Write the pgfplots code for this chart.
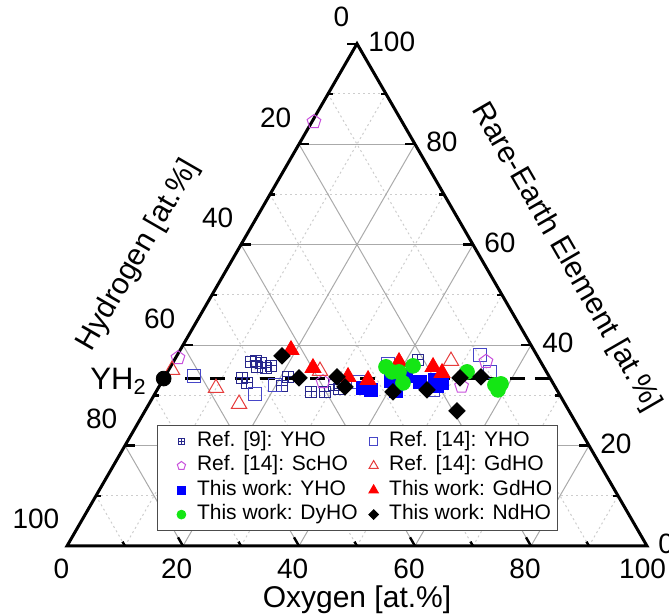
\documentclass[border=0pt]{standalone}
\usepackage{pgfplots}
\pgfplotsset{compat=1.18}
\usepackage{pgfplotstable}
\usepackage{fontspec}
\setmainfont{Liberation Sans}
\usetikzlibrary{plotmarks}

\pgfdeclareplotmark{boxplus}{%
  \pgfpathrectangle{\pgfpoint{-\pgfplotmarksize}{-\pgfplotmarksize}}{\pgfpoint{2\pgfplotmarksize}{2\pgfplotmarksize}}%
  \pgfpathmoveto{\pgfpoint{-\pgfplotmarksize}{0pt}}%
  \pgfpathlineto{\pgfpoint{\pgfplotmarksize}{0pt}}%
  \pgfpathmoveto{\pgfpoint{0pt}{-\pgfplotmarksize}}%
  \pgfpathlineto{\pgfpoint{0pt}{\pgfplotmarksize}}%
  \pgfusepathqstroke}

\definecolor{cRefNine}{RGB}{40,40,140}
\definecolor{cRefYHO}{RGB}{70,70,200}
\definecolor{cRefSc}{RGB}{200,80,220}
\definecolor{cRefGd}{RGB}{230,60,60}
\definecolor{cYHO}{RGB}{0,0,255}
\definecolor{cGd}{RGB}{255,0,0}
\definecolor{cDy}{RGB}{20,230,20}
\definecolor{majgrid}{RGB}{170,170,170}
\definecolor{mingrid}{RGB}{205,205,205}

% composition tables: O = oxygen at.%, RE = rare-earth at.% (H = 100 - O - RE)
\pgfplotstableread{
O RE
13.39 36.65
14.16 36.85
15.22 36.45
14.93 35.66
16.58 35.46
17.24 35.86
13.44 33.47
14.79 32.47
21.27 33.67
21.13 31.87
26.73 30.68
29.14 30.68
30.00 32.07
31.26 31.27
41.99 37.05
}\refnine
\pgfplotstableread{
O RE
4.97 33.86
17.27 30.28
19.82 32.07
33.84 32.67
52.19 38.05
55.60 34.66
47.56 31.08
37.22 36.25
}\refyho
\pgfplotstableread{
O RE
0.35 84.46
0.41 37.45
27.80 32.67
52.13 31.81
53.87 36.73
}\refscho
\pgfplotstableread{
O RE
0.57 35.06
9.95 31.47
15.52 28.29
47.78 36.85
26.19 34.86
}\refgdho
\pgfplotstableread{
O RE
35.29 31.47
36.87 31.08
39.43 32.87
41.28 30.88
41.52 33.86
44.53 32.67
46.92 33.07
48.42 32.47
47.85 31.87
}\yho
\pgfplotstableread{
O RE
19.10 39.04
24.68 35.46
31.62 33.67
35.37 33.07
38.92 36.65
45.28 35.66
47.43 34.46
}\gdho
\pgfplotstableread{
O RE
37.17 35.66
38.70 34.66
39.91 34.66
41.69 32.47
41.73 35.86
51.64 34.66
57.75 32.07
58.77 31.08
58.69 32.27
}\dyho
\pgfplotstableread{
O RE
18.14 37.85
23.27 33.47
29.72 33.67
32.09 31.67
40.87 30.68
46.53 31.08
53.79 26.89
51.03 33.47
54.55 33.67
}\ndho
\pgfplotstableread{
O RE
3.67 33.333
66.667 33.333
}\yhline
\pgfplotstableread{
O RE
0 33.333
}\yhdot

\begin{document}
\begin{tikzpicture}
\begin{axis}[
  scale only axis, width=290pt, height=251.147pt,
  xmin=0, xmax=100, ymin=0, ymax=86.6025,
  axis lines=none, clip=false, xtick=\empty, ytick=\empty,
  legend columns=2,
  legend cell align=left,
  legend style={at={(axis cs:15.52,20.86)}, anchor=north west, draw=black!70, fill=white,
     font=\fontsize{10.5}{12}\selectfont, inner xsep=2pt, inner ysep=3pt,
     nodes={inner xsep=0.5pt, inner ysep=0pt, text height=7.5pt, text depth=2.5pt},
     row sep=2.2pt,
     /tikz/every even column/.append style={column sep=-2.5pt}},
  legend image code/.code={\path[draw=none,fill=none] (-10pt,0pt) -- (7.3pt,0pt);\draw[#1] plot coordinates {(0pt,0pt)};},
  legend image post style={/tikz/every mark/.append style={scale=0.6}},
]
% minor grid (10,30,50,70,90)
\begin{scope}[mingrid, line width=0.5pt, dash pattern=on 1pt off 1.5pt]
\draw (axis cs:5,8.66025) -- (axis cs:95,8.66025);
\draw (axis cs:15,25.98076) -- (axis cs:85,25.98076);
\draw (axis cs:25,43.30127) -- (axis cs:75,43.30127);
\draw (axis cs:35,60.62178) -- (axis cs:65,60.62178);
\draw (axis cs:45,77.94229) -- (axis cs:55,77.94229);
\draw (axis cs:10,0) -- (axis cs:55,77.94229);
\draw (axis cs:30,0) -- (axis cs:65,60.62178);
\draw (axis cs:50,0) -- (axis cs:75,43.30127);
\draw (axis cs:70,0) -- (axis cs:85,25.98076);
\draw (axis cs:90,0) -- (axis cs:95,8.66025);
\draw (axis cs:45,77.94229) -- (axis cs:90,0);
\draw (axis cs:35,60.62178) -- (axis cs:70,0);
\draw (axis cs:25,43.30127) -- (axis cs:50,0);
\draw (axis cs:15,25.98076) -- (axis cs:30,0);
\draw (axis cs:5,8.66025) -- (axis cs:10,0);
\end{scope}
% major grid (20,40,60,80)
\begin{scope}[majgrid, line width=0.5pt]
\draw (axis cs:10,17.3205) -- (axis cs:90,17.3205);
\draw (axis cs:20,34.641) -- (axis cs:80,34.641);
\draw (axis cs:30,51.96152) -- (axis cs:70,51.96152);
\draw (axis cs:40,69.28203) -- (axis cs:60,69.28203);
\draw (axis cs:20,0) -- (axis cs:60,69.28203);
\draw (axis cs:40,0) -- (axis cs:70,51.96152);
\draw (axis cs:60,0) -- (axis cs:80,34.641);
\draw (axis cs:80,0) -- (axis cs:90,17.3205);
\draw (axis cs:40,69.28203) -- (axis cs:80,0);
\draw (axis cs:30,51.96152) -- (axis cs:60,0);
\draw (axis cs:20,34.641) -- (axis cs:40,0);
\draw (axis cs:10,17.3205) -- (axis cs:20,0);
\end{scope}

\addplot[only marks, mark=boxplus, mark size=2.8pt, color=cRefNine, line width=0.5pt]
  table[x expr=\thisrow{O}+0.5*\thisrow{RE}, y expr=0.8660254*\thisrow{RE}] {\refnine};
\addlegendentry{Ref. [9]: YHO}
\addplot[only marks, mark=square, mark size=3.2pt, color=cRefYHO, line width=0.5pt]
  table[x expr=\thisrow{O}+0.5*\thisrow{RE}, y expr=0.8660254*\thisrow{RE}] {\refyho};
\addlegendentry{Ref. [14]: YHO}
\addplot[only marks, mark=pentagon, mark size=3.6pt, color=cRefSc, line width=0.5pt]
  table[x expr=\thisrow{O}+0.5*\thisrow{RE}, y expr=0.8660254*\thisrow{RE}] {\refscho};
\addlegendentry{Ref. [14]: ScHO}
\addplot[only marks, mark=triangle, mark size=4.4pt, color=cRefGd, line width=0.5pt]
  table[x expr=\thisrow{O}+0.5*\thisrow{RE}, y expr=0.8660254*\thisrow{RE}] {\refgdho};
\addlegendentry{Ref. [14]: GdHO}
\addplot[only marks, mark=square*, mark size=3.2pt, color=cYHO]
  table[x expr=\thisrow{O}+0.5*\thisrow{RE}, y expr=0.8660254*\thisrow{RE}] {\yho};
\addlegendentry{This work: YHO}
\addplot[only marks, mark=triangle*, mark size=4.6pt, color=cGd]
  table[x expr=\thisrow{O}+0.5*\thisrow{RE}, y expr=0.8660254*\thisrow{RE}] {\gdho};
\addlegendentry{This work: GdHO}
\addplot[only marks, mark=*, mark size=3.7pt, color=cDy]
  table[x expr=\thisrow{O}+0.5*\thisrow{RE}, y expr=0.8660254*\thisrow{RE}] {\dyho};
\addlegendentry{This work: DyHO}
\addplot[only marks, mark=square*, mark size=2.9pt, color=black, mark options={rotate=45}]
  table[x expr=\thisrow{O}+0.5*\thisrow{RE}, y expr=0.8660254*\thisrow{RE}] {\ndho};
\addlegendentry{This work: NdHO}

% YH2 composition line and point
\addplot[forget plot, black, line width=1.5pt, dash pattern=on 7.5pt off 5pt]
  table[x expr=\thisrow{O}+0.5*\thisrow{RE}, y expr=0.8660254*\thisrow{RE}] {\yhline};
\addplot[forget plot, only marks, mark=*, mark size=3.7pt, black]
  table[x expr=\thisrow{O}+0.5*\thisrow{RE}, y expr=0.8660254*\thisrow{RE}] {\yhdot};

% frame
\draw[black, line width=1.5pt, line join=miter] (axis cs:0,0) -- (axis cs:100,0) -- (axis cs:50,86.6025) -- cycle;
% ticks
\begin{scope}[black, line width=1.2pt]
% left side (inward, horizontal)
\draw (axis cs:5,8.66025) -- ++(2.5pt,0);
\draw (axis cs:10,17.3205) -- ++(5pt,0);
\draw (axis cs:15,25.98076) -- ++(2.5pt,0);
\draw (axis cs:20,34.641) -- ++(5pt,0);
\draw (axis cs:25,43.30127) -- ++(2.5pt,0);
\draw (axis cs:30,51.96152) -- ++(5pt,0);
\draw (axis cs:35,60.62178) -- ++(2.5pt,0);
\draw (axis cs:40,69.28203) -- ++(5pt,0);
\draw (axis cs:45,77.94229) -- ++(2.5pt,0);
% right side (inward, horizontal)
\draw (axis cs:95,8.66025) -- ++(-2.5pt,0);
\draw (axis cs:90,17.3205) -- ++(-5pt,0);
\draw (axis cs:85,25.98076) -- ++(-2.5pt,0);
\draw (axis cs:80,34.641) -- ++(-5pt,0);
\draw (axis cs:75,43.30127) -- ++(-2.5pt,0);
\draw (axis cs:70,51.96152) -- ++(-5pt,0);
\draw (axis cs:65,60.62178) -- ++(-2.5pt,0);
\draw (axis cs:60,69.28203) -- ++(-5pt,0);
\draw (axis cs:55,77.94229) -- ++(-2.5pt,0);
\draw (axis cs:50,86.6025) -- ++(-5pt,0);
% bottom (inward, slanted)
\pgfplotsinvokeforeach{10,30,50,70,90}{\draw (axis cs:#1,0) -- ++(-1.25pt,2.165pt);}
\pgfplotsinvokeforeach{20,40,60,80}{\draw (axis cs:#1,0) -- ++(-2.5pt,4.33pt);}
\end{scope}

% tick labels
\begin{scope}[font=\fontsize{14}{16}\selectfont, inner sep=0pt]
% Hydrogen (left side)
\node[anchor=east, xshift=-3.65pt, yshift=13.35pt] at (axis cs:50,86.6025) {0};
\node[anchor=east, xshift=-3.65pt, yshift=13.35pt] at (axis cs:40,69.28203) {20};
\node[anchor=east, xshift=-3.65pt, yshift=13.35pt] at (axis cs:30,51.96152) {40};
\node[anchor=east, xshift=-3.65pt, yshift=13.35pt] at (axis cs:20,34.641) {60};
\node[anchor=east, xshift=-3.65pt, yshift=13.35pt] at (axis cs:10,17.3205) {80};
\node[anchor=east, xshift=-3.65pt, yshift=13.35pt] at (axis cs:0,0) {100};
% Rare-earth (right side)
\node[anchor=west, xshift=5.5pt, yshift=1pt] at (axis cs:50,86.6025) {100};
\node[anchor=west, xshift=5.5pt, yshift=1pt] at (axis cs:60,69.28203) {80};
\node[anchor=west, xshift=5.5pt, yshift=1pt] at (axis cs:70,51.96152) {60};
\node[anchor=west, xshift=5.5pt, yshift=1pt] at (axis cs:80,34.641) {40};
\node[anchor=west, xshift=5.5pt, yshift=1pt] at (axis cs:90,17.3205) {20};
\node[anchor=west, xshift=5.5pt, yshift=1pt] at (axis cs:100,0) {0};
% Oxygen (bottom)
\node[xshift=-2.8pt, yshift=-11.3pt] at (axis cs:0,0) {0};
\node[xshift=-3.2pt, yshift=-11.3pt] at (axis cs:20,0) {20};
\node[xshift=-3.2pt, yshift=-11.3pt] at (axis cs:40,0) {40};
\node[xshift=-3.0pt, yshift=-11.3pt] at (axis cs:60,0) {60};
\node[xshift=-3.0pt, yshift=-11.3pt] at (axis cs:80,0) {80};
\node[xshift=-2.2pt, yshift=-11.3pt] at (axis cs:100,0) {100};
\end{scope}

% axis labels
\node[font=\fontsize{15}{18}\selectfont] at (axis cs:50,-9.31) {Oxygen [at.\%]};
\node[font=\fontsize{15}{18}\selectfont, rotate=60] at (axis cs:12.36,50.17) {Hydrogen [at.\%]};
\node[font=\fontsize{15}{18}\selectfont, rotate=-60] at (axis cs:86.0,49.8) {Rare-Earth Element [at.\%]};
\node[font=\fontsize{15.5}{18}\selectfont, anchor=base east, inner sep=0pt] at (axis cs:13.79,27.0) {YH\textsubscript{2}};

\coordinate (bbll) at (axis cs:-11.552,-11.897);
\coordinate (bbur) at (axis cs:103.793,94.138);
\end{axis}
\pgfresetboundingbox
\path[use as bounding box] (bbll) rectangle (bbur);
\end{tikzpicture}
\end{document}
